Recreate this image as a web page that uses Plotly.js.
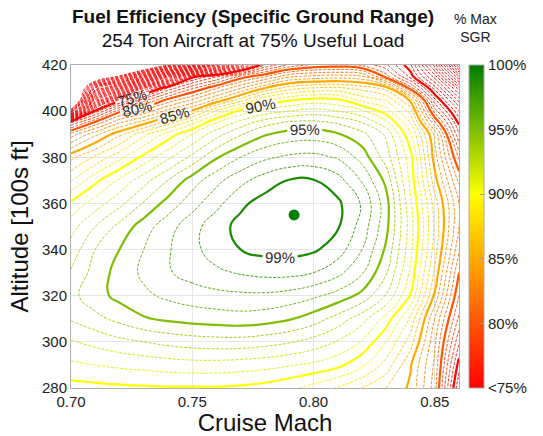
<!DOCTYPE html>
<html><head><meta charset="utf-8">
<script src="https://cdn.plot.ly/plotly-3.0.1.min.js"></script>
<style>html,body{margin:0;padding:0;background:#fff}#chart{width:543px;height:436px}</style>
</head><body><div id="chart"></div>
<script>
// Cruise Mach grid (columns) and altitude grid in 100s ft (rows)
const machValues = [0.70,0.71,0.72,0.73,0.74,0.75,0.76,0.77,0.78,0.79,0.80,0.81,0.82,0.83,0.84,0.85,0.86];
const altValues = [280,290,300,310,320,330,340,350,360,370,380,390,395,400,405,410,415,420];

// % of max SGR, one array per altitude row
const sgr280 = [89.6,89.7,89.8,89.85,89.9,89.9,89.9,89.8,89.6,89.2,88.6,87.9,87.0,86.0,84.8,81.5,73.0];
const sgr290 = [90.8,91.0,91.2,91.35,91.5,91.6,91.6,91.5,91.35,91.1,90.8,90.3,89.2,87.6,85.1,81.8,74.5];
const sgr300 = [91.9,92.3,92.7,93.0,93.3,93.5,93.6,93.6,93.4,93.1,92.6,91.9,90.9,89.0,86.5,82.2,76.2];
const sgr310 = [93.1,93.7,94.3,94.9,95.2,95.4,95.5,95.6,95.45,95.1,94.5,93.6,92.4,90.6,87.8,83.0,77.8];
const sgr320 = [93.7,94.6,95.3,95.8,96.2,96.5,96.7,96.8,96.8,96.6,96.2,95.6,94.7,92.9,89.9,84.8,79.0];
const sgr330 = [93.1,94.4,95.4,96.2,96.9,97.4,97.8,98.1,98.3,98.3,98.0,97.3,96.1,94.1,90.8,85.8,80.0];
const sgr340 = [92.4,94.0,95.0,96.0,96.9,97.7,98.5,99.0,99.3,99.35,99.15,98.5,97.0,94.8,91.3,86.5,81.2];
const sgr350 = [91.6,93.0,94.3,95.5,96.6,97.6,98.6,99.3,99.75,99.95,99.8,99.1,97.6,95.3,91.5,86.8,82.0];
const sgr360 = [90.2,91.5,92.7,94.1,95.4,96.6,97.7,98.8,99.4,99.75,99.7,99.2,97.9,95.4,91.2,86.5,82.0];
const sgr370 = [87.9,89.7,91.2,92.6,94.0,95.5,96.7,97.7,98.5,99.05,99.05,98.4,96.9,94.7,90.7,85.4,80.8];
const sgr380 = [85.7,87.2,88.7,90.3,91.8,93.3,94.9,96.0,96.8,97.2,97.3,96.9,95.6,93.5,90.4,84.5,78.8];
const sgr390 = [81.4,83.7,85.7,87.7,89.4,91.0,92.6,93.9,94.9,95.4,95.5,95.1,94.3,92.8,89.1,83.8,76.0];
const sgr395 = [77.0,80.3,82.9,84.6,86.6,88.7,91.0,92.4,93.6,94.2,94.3,93.9,93.0,91.3,88.0,81.2,74.8];
const sgr400 = [52.0,75.5,79.7,81.3,83.4,85.2,88.2,90.4,91.4,92.0,92.4,92.0,91.2,89.5,86.6,78.6,73.0];
const sgr405 = [40.0,66.0,74.2,77.4,80.2,82.0,84.1,86.4,88.8,89.8,90.3,90.1,88.6,87.8,84.7,76.2,70.5];
const sgr410 = [40.0,57.0,63.0,71.8,76.2,78.8,80.9,82.9,85.0,86.5,87.1,87.2,86.6,85.6,79.5,73.5,67.5];
const sgr415 = [40.0,45.0,50.5,58.0,66.0,74.6,76.8,79.4,81.0,82.8,83.3,83.5,83.2,79.5,75.6,70.5,63.0];
const sgr420 = [40.0,40.0,42.0,44.0,50.0,57.0,64.0,71.0,76.0,78.2,79.2,79.4,78.8,77.2,74.2,67.5,58.0];

// Optimum point
const peakMach = [0.792];
const peakAlt = [355];

// Contour levels (% Max SGR)
const majorLevels = [75,80,85,90,95,99];
const lowestLevel = 50;
const highestLevel = 99;

// Tick labels
const machTicks = [0.70,0.75,0.80,0.85];
const machTickText = ['0.70','0.75','0.80','0.85'];
const altTicks = [280,300,320,340,360,380,400,420];
const cbTicks = [75,80,85,90,95,100];
const cbTickText = ['<75%','80%','85%','90%','95%','100%'];

const rows = [sgr280,sgr290,sgr300,sgr310,sgr320,sgr330,sgr340,sgr350,sgr360,sgr370,sgr380,sgr390,sgr395,sgr400,sgr405,sgr410,sgr415,sgr420];
const z = rows.map(r => r.map(v => v / 100));

const cstops = [[0,[255,0,0]],[0.2,[255,85,0]],[0.4,[255,170,0]],[0.6,[255,255,0]],[0.8,[125,190,0]],[1,[0,125,0]]];
const cscale = cstops.map(s => [s[0], 'rgb(' + s[1].join(',') + ')']);
function colorAt(level) {
  let f = (level - 75) / 25;
  f = Math.max(0, Math.min(1, f));
  for (let i = 1; i < cstops.length; i++) {
    if (f <= cstops[i][0]) {
      const a = cstops[i-1], b = cstops[i];
      const t = (f - a[0]) / (b[0] - a[0]);
      const c = a[1].map((v, k) => Math.round(v + (b[1][k] - v) * t));
      return 'rgb(' + c.join(',') + ')';
    }
  }
  return 'rgb(0,125,0)';
}

const traces = [];
for (let L = lowestLevel; L <= highestLevel; L++) {
  if (majorLevels.indexOf(L) >= 0) continue;
  traces.push({type:'contour', x: machValues, y: altValues, z: z, autocontour: false, showscale: false, hoverinfo: 'skip',
    contours: {start: L/100, end: L/100, size: 0.01, coloring: 'none', showlabels: false},
    line: {width: 0.9, dash: '3px,1.5px', color: colorAt(L), smoothing: 1.3}});
}
majorLevels.forEach(L => {
  traces.push({type:'contour', x: machValues, y: altValues, z: z, autocontour: false, showscale: false, hoverinfo: 'skip',
    contours: {start: L/100, end: L/100, size: 0.01, coloring: 'none', showlabels: true, labelformat: '.0%',
      labelfont: {size: 15, color: '#2a2a2a', family: 'Liberation Sans, Arial, sans-serif'}},
    line: {width: 2.2, color: colorAt(L), smoothing: 1.3}});
});
traces.push({type:'scatter', mode:'markers', x: peakMach, y: peakAlt, hoverinfo:'skip',
  marker: {color: 'rgb(0,128,0)', size: 11}, showlegend: false});
traces.push({type:'scatter', mode:'markers', x:[0.5,0.5], y:[200,200], hoverinfo:'skip', showlegend:false,
  marker: {color: [0.75, 1.0], colorscale: cscale, cmin: 0.75, cmax: 1.0, size: 1, showscale: true,
    colorbar: {x: 1.025, xanchor: 'left', xpad: 0, ypad: 0, y: 0.5, yanchor: 'middle', len: 1, lenmode: 'fraction',
      thickness: 15, outlinewidth: 1, outlinecolor: '#aaaaaa',
      tickvals: cbTicks.map(v => v/100), ticktext: cbTickText, ticks: 'inside', ticklen: 4, tickcolor: '#999',
      tickfont: {size: 15, color: '#222'}}}});

const layout = {
  width: 543, height: 436,
  margin: {l: 71, r: 76, t: 65, b: 48, pad: 0},
  paper_bgcolor: '#fff', plot_bgcolor: '#fff',
  font: {family: 'Liberation Sans, Arial, sans-serif', color: '#222'},
  showlegend: false,
  title: {text: '<b>Fuel Efficiency (Specific Ground Range)</b><br>254 Ton Aircraft at 75% Useful Load',
    x: 0.466, xanchor: 'center', xref: 'container', y: 0.948, yanchor: 'top', yref: 'container',
    font: {size: 19, color: '#111'}},
  xaxis: {range: [0.70, 0.86], tickvals: machTicks, ticktext: machTickText, showgrid: true, gridcolor: '#e6e6e6',
    showline: true, mirror: true, linecolor: '#b0b0b0', linewidth: 1, zeroline: false, ticks: '',
    tickfont: {size: 15, color: '#222'}, title: {text: 'Cruise Mach', font: {size: 24, color: '#111'}, standoff: 4}},
  yaxis: {range: [280, 420], tickvals: altTicks, showgrid: true, gridcolor: '#e6e6e6',
    showline: true, mirror: true, linecolor: '#b0b0b0', linewidth: 1, zeroline: false, ticks: '',
    tickfont: {size: 15, color: '#222'}, title: {text: 'Altitude [100s ft]', font: {size: 24, color: '#111'}, standoff: 6}},
  annotations: [{text: '% Max<br>SGR', xref: 'paper', yref: 'paper', x: 1.043, y: 1.115, xanchor: 'center', yanchor: 'middle',
    showarrow: false, font: {size: 14, color: '#222'}}]
};

Plotly.newPlot('chart', traces, layout, {displayModeBar: false, staticPlot: true});
</script></body></html>
